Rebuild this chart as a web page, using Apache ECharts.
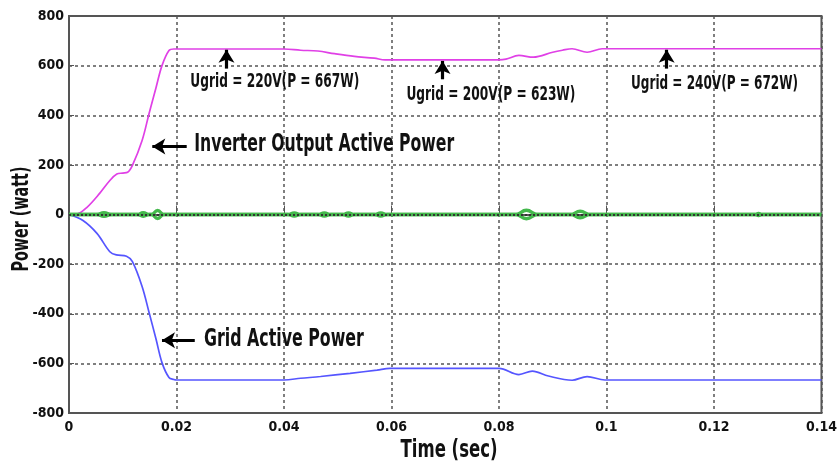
<!DOCTYPE html>
<html><head><meta charset="utf-8">
<script src="https://cdn.jsdelivr.net/npm/echarts@6/dist/echarts.min.js"></script>
<style>html,body{margin:0;padding:0;background:#fff}#c{width:840px;height:464px}</style>
</head><body><div id="c"></div>
<script>
// ---- data ----
const xTicks = [0, 0.02, 0.04, 0.06, 0.08, 0.1, 0.12, 0.14];
const yTicks = [-800, -600, -400, -200, 0, 200, 400, 600, 800];

const invT = [0, 0.0015, 0.0033, 0.0057, 0.0076, 0.0089, 0.0100, 0.0109, 0.0118, 0.0136, 0.0149, 0.0162, 0.0173, 0.0186, 0.0195, 0.02, 0.04, 0.0431, 0.0463, 0.0494, 0.0531, 0.0568, 0.0588, 0.08, 0.0813, 0.0837, 0.0864, 0.09, 0.0918, 0.0936, 0.0964, 0.0992, 0.1003, 0.14];
const invP = [0, 2, 28, 85, 137, 163, 167, 170, 198, 298, 407, 512, 600, 661, 667, 667, 667, 662, 659, 648, 637, 630, 623, 623, 626, 641, 634, 654, 662, 668, 654, 668, 668, 668];

const gridT = [0, 0.0026, 0.0052, 0.0076, 0.0088, 0.0107, 0.0118, 0.0136, 0.0149, 0.0162, 0.0173, 0.0186, 0.0195, 0.02, 0.04, 0.0431, 0.0468, 0.0523, 0.0573, 0.0597, 0.08, 0.0837, 0.0862, 0.0892, 0.0936, 0.0964, 0.0997, 0.14];
const gridP = [0, -24, -76, -150, -163, -168, -190, -290, -395, -503, -597, -657, -665, -667, -667, -660, -653, -640, -627, -620, -620, -645, -631, -651, -668, -653, -667, -667];

const qT = [0, 0.0052, 0.0065, 0.0079, 0.0127, 0.0138, 0.0150, 0.0153, 0.0165, 0.0177, 0.0407, 0.0419, 0.0431, 0.0463, 0.0475, 0.0487, 0.0509, 0.0520, 0.0531, 0.0568, 0.0580, 0.0592, 0.0831, 0.0851, 0.0872, 0.0933, 0.0951, 0.0970, 0.1276, 0.1283, 0.1290, 0.14];
const qUp = [0, 0, 7, 0, 0, 7, 0, 0, 16, 0, 0, 6, 0, 0, 6, 0, 0, 6, 0, 0, 6, 0, 0, 17, 0, 0, 13, 0, 0, 4, 0, 0];
const qDn = [0, 0, -7, 0, 0, -7, 0, 0, -16, 0, 0, -6, 0, 0, -6, 0, 0, -6, 0, 0, -6, 0, 0, -17, 0, 0, -13, 0, 0, -4, 0, 0];

const labelTexts = ['Ugrid = 220V(P = 667W)', 'Ugrid = 200V(P = 623W)', 'Ugrid = 240V(P = 672W)', 'Inverter Output Active Power', 'Grid Active Power'];
const labelAt = [[0.0383, 532], [0.0785, 481], [0.1201, 527], [0.0233, 282], [0.0251, -503]];
const arrowFrom = [[0.0293, 588], [0.0695, 545], [0.1112, 588], [0.0219, 274], [0.0234, -507]];
const arrowTo = [[0.0293, 664], [0.0695, 619], [0.1112, 664], [0.0155, 274], [0.0173, -507]];

const FAM = "'DejaVu Sans Condensed','DejaVu Sans',sans-serif";
const zip = (a, b) => a.map((v, i) => [v, b[i]]);

const chart = echarts.init(document.getElementById('c'));
chart.setOption({
  animation: false,
  backgroundColor: '#fff',
  grid: { left: 69, right: 11, top: 16, bottom: 51, show: true, borderColor: '#555', borderWidth: 2 },
  xAxis: {
    type: 'value', min: 0, max: 0.14, interval: 0.02,
    axisLine: { lineStyle: { color: '#555', width: 2 } },
    axisTick: { inside: true, length: 9, lineStyle: { color: '#555' } },
    axisLabel: { fontFamily: FAM, fontWeight: 'bold', fontSize: 14, color: '#111', margin: 7,
      formatter: v => String(+v.toFixed(2)) },
    splitLine: { show: true, lineStyle: { color: '#555', type: [3, 3], width: 1.5 } }
  },
  yAxis: {
    type: 'value', min: -800, max: 800, interval: 200,
    axisLine: { lineStyle: { color: '#555', width: 2 } },
    axisTick: { inside: true, length: 5, lineStyle: { color: '#555' } },
    axisLabel: { fontFamily: FAM, fontWeight: 'bold', fontSize: 14, color: '#111', margin: 5 },
    splitLine: { show: true, lineStyle: { color: '#555', type: [3, 3], width: 1.5 } }
  },
  series: [
    { type: 'line', data: zip(invT, invP), showSymbol: false, smooth: 0.35,
      lineStyle: { color: '#e040e6', width: 1.7 },
      markLine: { silent: true, symbol: ['none', 'arrow'], symbolSize: [12, 13],
        lineStyle: { color: '#000', width: 3.2, type: 'solid' }, label: { show: false },
        data: arrowFrom.map((f, i) => [{ coord: f }, { coord: arrowTo[i] }]) } },
    { type: 'line', data: zip(gridT, gridP), showSymbol: false, smooth: 0.35,
      lineStyle: { color: '#5555ff', width: 1.7 } },
    { type: 'line', data: zip(qT, qUp), showSymbol: false, smooth: 0.5,
      lineStyle: { color: '#44b84c', width: 3.4 } },
    { type: 'line', data: zip(qT, qDn), showSymbol: false, smooth: 0.5,
      lineStyle: { color: '#44b84c', width: 3.4 },
      markLine: { silent: true, symbol: 'none', label: { show: false },
        lineStyle: { color: '#333', type: [2, 2], width: 1.8 },
        data: [{ yAxis: 0 }] } }
  ]
});

// condensed text (scaled horizontally to the narrow look of the original)
const mctx = document.createElement('canvas').getContext('2d');
function ctext(text, x, y, size, targetW, align, rot) {
  mctx.font = 'bold ' + size + 'px ' + FAM;
  const w = mctx.measureText(text).width;
  return { type: 'text', x: x, y: y, rotation: rot || 0, scaleX: targetW / w, silent: true, z: 100,
    style: { text: text, fontFamily: FAM, fontWeight: 'bold', fontSize: size, fill: '#111',
      align: align, verticalAlign: 'middle', textAlign: align, textVerticalAlign: 'middle' } };
}
const widths = [169, 169, 167, 260, 160];
const sizes = [19, 19, 19, 24, 24];
const g = labelTexts.map((t, i) => {
  const p = chart.convertToPixel({ gridIndex: 0 }, labelAt[i]);
  return ctext(t, p[0], p[1], sizes[i], widths[i], i >= 3 ? 'left' : 'center');
});
g.push(ctext('Time (sec)', 449, 451, 24, 97, 'center'));
g.push(ctext('Power (watt)', 22, 219, 23, 105, 'center', Math.PI / 2));
chart.setOption({ graphic: g });
</script></body></html>
